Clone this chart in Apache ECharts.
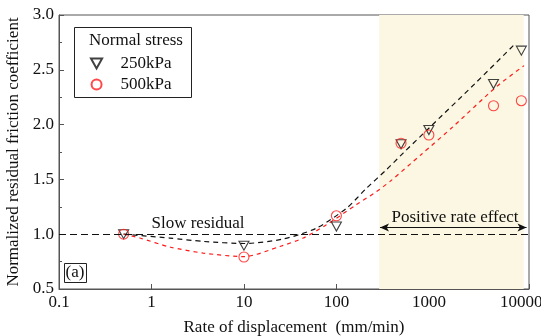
<!DOCTYPE html>
<html>
<head>
<meta charset="utf-8">
<script src="https://cdn.jsdelivr.net/npm/echarts@6/dist/echarts.min.js"></script>
<style>html,body{margin:0;padding:0;background:#fff}#c{width:541px;height:336px}</style>
</head>
<body>
<div id="c"></div>
<script>
// measured points
const rates = [0.5, 10, 100, 500, 1000, 5000, 10000];
const s250 = [1.0, 0.895, 1.07, 1.82, 1.95, 2.37, 2.675];
const s500 = [1.0, 0.792, 1.168, 1.83, 1.905, 2.172, 2.218];
// fitted trend curves
const fit250X = [0.5, 1.58, 3.63, 10, 26.6, 61, 129, 212, 349, 527, 1000, 3160, 8700];
const fit250Y = [1.0, 0.965, 0.934, 0.915, 0.956, 1.056, 1.238, 1.42, 1.59, 1.74, 1.967, 2.375, 2.743];
const fit500X = [0.5, 0.75, 1.58, 3.63, 10, 24.5, 43.8, 78, 165, 272, 378, 834, 1830, 5400, 10700];
const fit500Y = [1.0, 0.965, 0.883, 0.828, 0.795, 0.888, 0.965, 1.086, 1.27, 1.39, 1.48, 1.73, 1.982, 2.347, 2.538];
const xTickLabels = ['0.1', '1', '10', '100', '1000', '10000'];
const yTickLabels = ['0.5', '1.0', '1.5', '2.0', '2.5', '3.0'];
const shadeRange = [290, 10600];
const arrowRange = [296, 11380];
const arrowY = 1.06;
const baseline = 1.0;

const FONT = '"Liberation Serif", "Times New Roman", "DejaVu Serif", serif';
const FS = 17;
const zip = (a, b) => a.map((v, i) => [v, b[i]]);
const triDown = 'path://M0,0 L10,0 L5,9 Z';

const chart = echarts.init(document.getElementById('c'), null, {renderer: 'canvas'});
chart.setOption({
  animation: false,
  backgroundColor: '#fff',
  textStyle: {fontFamily: FONT},
  grid: {left: 59, right: 12, top: 15, bottom: 47, show: true, borderColor: '#555', borderWidth: 1,
    containLabel: false, outerBoundsMode: 'none'},
  xAxis: {
    type: 'log', logBase: 10, min: 0.1, max: 12100,
    axisLine: {lineStyle: {color: '#555', width: 1}},
    axisTick: {inside: true, length: 5, lineStyle: {color: '#555'}},
    splitLine: {show: false},
    axisLabel: {
      fontFamily: FONT, fontSize: FS, color: '#111', margin: 5, hideOverlap: false,
      formatter: v => {
        const l = Math.log10(v); const r = Math.round(l);
        return Math.abs(l - r) < 1e-6 ? (xTickLabels[r + 1] || '') : '';
      }
    },
    name: 'Rate of displacement  (mm/min)', nameLocation: 'middle', nameGap: 30,
    nameTextStyle: {fontFamily: FONT, fontSize: FS, color: '#111'}
  },
  yAxis: {
    type: 'value', min: 0.5, max: 3.0, interval: 0.5,
    axisLine: {show: true, lineStyle: {color: '#555', width: 1}},
    axisTick: {inside: true, length: 5, lineStyle: {color: '#555'}},
    minorTick: {show: true, splitNumber: 2, length: 3, lineStyle: {color: '#555'}},
    splitLine: {show: false},
    axisLabel: {fontFamily: FONT, fontSize: FS, color: '#111', margin: 5,
      formatter: v => yTickLabels[Math.round((v - 0.5) / 0.5)] || ''},
    name: 'Normalized residual friction coefficient', nameLocation: 'middle', nameGap: 25,
    nameTextStyle: {fontFamily: FONT, fontSize: FS, color: '#111'}
  },
  legend: {
    data: ['250kPa', '500kPa'], orient: 'vertical', left: 85, top: 50, z: 20,
    itemWidth: 12, itemHeight: 10, itemGap: 4,
    textStyle: {fontFamily: FONT, fontSize: FS, color: '#111', padding: [0, 0, 0, 13]}
  },
  graphic: [
    {type: 'rect', left: 74, top: 27, shape: {width: 117, height: 70},
      style: {fill: '#fff', stroke: '#222', lineWidth: 1}, z: 5},
    {type: 'text', left: 89, top: 32, style: {text: 'Normal stress', font: FS + 'px ' + FONT, fill: '#111'}, z: 6},
    {type: 'rect', left: 64, top: 263, shape: {width: 22, height: 19},
      style: {fill: '#fff', stroke: '#222', lineWidth: 1}, z: 5},
    {type: 'text', x: 75, y: 273, style: {text: '(a)', font: FS + 'px ' + FONT, fill: '#111', align: 'center', verticalAlign: 'middle'}, z: 6},
    {type: 'text', x: 198, y: 224, style: {text: 'Slow residual', font: FS + 'px ' + FONT, fill: '#111', align: 'center', verticalAlign: 'middle'}, z: 6},
    {type: 'text', x: 455, y: 218, style: {text: 'Positive rate effect', font: FS + 'px ' + FONT, fill: '#111', align: 'center', verticalAlign: 'middle'}, z: 6}
  ],
  series: [
    {
      type: 'line', name: 'shade', data: [], z: 0, silent: true,
      markArea: {silent: true, itemStyle: {color: '#FBF7E3'},
        data: [[{xAxis: shadeRange[0]}, {xAxis: shadeRange[1]}]]},
      markLine: {silent: true, symbol: ['none', 'none'], label: {show: false},
        lineStyle: {color: '#111', type: [7, 4], width: 1},
        data: [{yAxis: baseline}]}
    },
    {
      type: 'line', name: 'arrow', data: [], z: 3, silent: true,
      markLine: {silent: true, symbol: ['arrow', 'arrow'], symbolSize: [6, 9], label: {show: false},
        lineStyle: {color: '#111', type: 'solid', width: 1},
        data: [[{coord: [arrowRange[0], arrowY]}, {coord: [arrowRange[1], arrowY]}]]}
    },
    {type: 'line', name: 'fit250', data: zip(fit250X, fit250Y), smooth: 0.25, showSymbol: false, symbol: 'none', z: 2,
      lineStyle: {color: '#111', type: [5, 4], width: 1.2}},
    {type: 'line', name: 'fit500', data: zip(fit500X, fit500Y), smooth: 0.25, showSymbol: false, symbol: 'none', z: 2,
      lineStyle: {color: '#FF1A1A', type: [4, 4], width: 1.2}},
    {type: 'scatter', name: '250kPa', data: zip(rates, s250), symbol: triDown, symbolSize: [10, 9], z: 4,
      itemStyle: {color: 'rgba(0,0,0,0)', borderColor: '#111', borderWidth: 1.1}},
    {type: 'scatter', name: '500kPa', data: zip(rates, s500), symbol: 'circle', symbolSize: 10, z: 4,
      itemStyle: {color: 'rgba(0,0,0,0)', borderColor: '#FF1A1A', borderWidth: 1.1}}
  ]
});
</script>
</body>
</html>
